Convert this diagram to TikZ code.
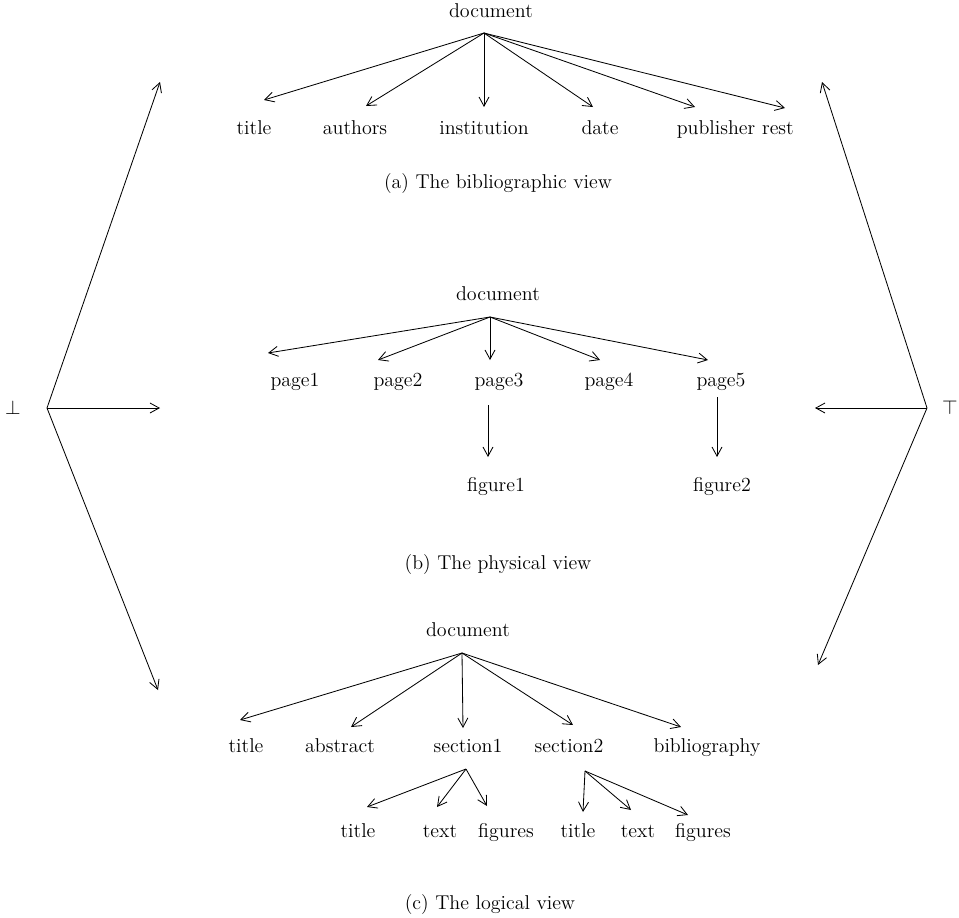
\documentclass[tikz,border=0pt]{standalone}
\usepackage{tikz}
\usetikzlibrary{arrows.meta, positioning}

\begin{document}
\begin{tikzpicture}[x=0.6pt, y=-0.6pt, font=\large,
    lbl/.style={inner sep=0pt, text height=1.5ex, text depth=.25ex},
    arrow/.style={-{Straight Barb[length=5.5pt, width=6pt]}, line width=0.5pt}
]
    \useasboundingbox (0,0) rectangle (959,918);

    % (a) bibliographic view
    \node[lbl] (doca) at (491,13) {document};
    \coordinate (ra) at (484,33);
    \node[lbl] (titlea) at (254,130) {title};
    \node[lbl] (authors) at (355,130) {authors};
    \node[lbl] (inst) at (484,130) {institution};
    \node[lbl] (date) at (600,130) {date};
    \node[lbl] (publ) at (716,130) {publisher};
    \node[lbl] (rest) at (778,130) {rest};
    \node (capa) at (498,184) {(a) The bibliographic view};

    \draw[arrow] (ra) -- ([shift={(10,-30)}]titlea.center);
    \draw[arrow] (ra) -- ([shift={(11,-24)}]authors.center);
    \draw[arrow] (ra) -- ([shift={(0,-23)}]inst.center);
    \draw[arrow] (ra) -- ([shift={(-7,-23)}]date.center);
    \draw[arrow] (ra) -- ([shift={(-21,-23)}]publ.center);
    \draw[arrow] (ra) -- ([shift={(7,-22)}]rest.center);

    % (b) physical view
    \node[lbl] (docb) at (498,296) {document};
    \coordinate (rb) at (490,317);
    \node[lbl] (page1) at (295,382) {page1};
    \node[lbl] (page2) at (398,382) {page2};
    \node[lbl] (page3) at (499,382) {page3};
    \node[lbl] (page4) at (609,382) {page4};
    \node[lbl] (page5) at (721,382) {page5};
    \node[lbl] (fig1) at (496,487) {figure1};
    \node[lbl] (fig2) at (722,487) {figure2};
    \node (capb) at (498,565) {(b) The physical view};

    \draw[arrow] (rb) -- ([shift={(-27,-29)}]page1.center);
    \draw[arrow] (rb) -- ([shift={(-20,-22)}]page2.center);
    \draw[arrow] (rb) -- ([shift={(-9,-22)}]page3.center);
    \draw[arrow] (rb) -- ([shift={(-9,-22)}]page4.center);
    \draw[arrow] (rb) -- ([shift={(-13,-22)}]page5.center);
    \draw[arrow] ([shift={(-11,23)}]page3.center) -- ([shift={(-8,-30)}]fig1.center);
    \draw[arrow] ([shift={(-4,15)}]page5.center) -- ([shift={(-5,-30)}]fig2.center);

    % (c) logical view
    \node[lbl] (docc) at (468,632) {document};
    \coordinate (rc) at (462,653);
    \node[lbl] (titlec) at (246,748) {title};
    \node[lbl] (abstr) at (340,748) {abstract};
    \node[lbl] (sec1) at (468,748) {section1};
    \node[lbl] (sec2) at (569,748) {section2};
    \node[lbl] (bib) at (707,748) {bibliography};
    \node[lbl] (tit1) at (358,833) {title};
    \node[lbl] (txt1) at (440,833) {text};
    \node[lbl] (figs1) at (506,833) {figures};
    \node[lbl] (tit2) at (578,833) {title};
    \node[lbl] (txt2) at (638,833) {text};
    \node[lbl] (figs2) at (703,833) {figures};
    \node (capc) at (490,905) {(c) The logical view};

    \draw[arrow] (rc) -- ([shift={(-6,-28)}]titlec.center);
    \draw[arrow] (rc) -- ([shift={(11,-21)}]abstr.center);
    \draw[arrow] (rc) -- ([shift={(-5,-20)}]sec1.center);
    \draw[arrow] (rc) -- ([shift={(4,-23)}]sec2.center);
    \draw[arrow] (rc) -- ([shift={(-26,-21)}]bib.center);

    \coordinate (rs1) at (466,769);
    \draw[arrow] (rs1) -- ([shift={(9,-26)}]tit1.center);
    \draw[arrow] (rs1) -- ([shift={(-3,-26)}]txt1.center);
    \draw[arrow] (rs1) -- ([shift={(-19,-27)}]figs1.center);

    \coordinate (rs2) at (585,771);
    \draw[arrow] (rs2) -- ([shift={(5,-21)}]tit2.center);
    \draw[arrow] (rs2) -- ([shift={(-7,-23)}]txt2.center);
    \draw[arrow] (rs2) -- ([shift={(-15,-18)}]figs2.center);

    % bottom and top elements
    \node (bot) at (13,408) {$\bot$};
    \node (top) at (950,408) {$\top$};
    \coordinate (lapex) at (47,408);
    \coordinate (lup) at (160,82);
    \coordinate (lmid) at (160,408);
    \coordinate (ldown) at (158,690);
    \coordinate (rapex) at (927,408);
    \coordinate (rup) at (822,82);
    \coordinate (rmid) at (815,408);
    \coordinate (rdown) at (818,665);

    \draw[arrow] (lapex) -- (lup);
    \draw[arrow] (lapex) -- (lmid);
    \draw[arrow] (lapex) -- (ldown);
    \draw[arrow] (rapex) -- (rup);
    \draw[arrow] (rapex) -- (rmid);
    \draw[arrow] (rapex) -- (rdown);
\end{tikzpicture}
\end{document}
